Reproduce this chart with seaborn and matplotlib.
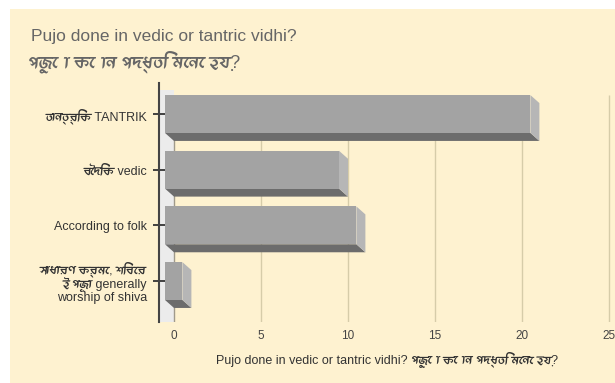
import numpy as np
import pandas as pd
import matplotlib
matplotlib.use("Agg")
import matplotlib.pyplot as plt
import seaborn as sns
from matplotlib import font_manager as fm
from matplotlib.ft2font import FT2Font
from matplotlib.patches import Polygon, Rectangle
from matplotlib.transforms import Affine2D

# data
categories = ["তান্ত্রিক TANTRIK",
              "বৈদিক vedic",
              "According to folk",
              "সাধারণ ক্রমে, শিবের\nই পূজা generally\nworship of shiva"]
counts = [21, 10, 11, 1]
x_ticks = [0, 5, 10, 15, 20, 25]

title_en = "Pujo done in vedic or tantric vidhi?"
title_bn = "পুজো কোন পদ্ধতি মেনে হয়?"
x_label = "Pujo done in vedic or tantric vidhi? পুজো কোন পদ্ধতি মেনে হয়?"


# look for any installed font that has bengali glyphs
def has_bengali(path):
    try:
        return FT2Font(path).get_char_index(0x0995) != 0
    except Exception:
        return False

bengali_fonts = sorted({f.name for f in fm.fontManager.ttflist if has_bengali(f.fname)})

sns.set_style("white")
plt.rcParams['font.family'] = ['Liberation Sans'] + bengali_fonts[:1] + ['DejaVu Sans']

df = pd.DataFrame({"answer": categories, "count": counts})

fig = plt.figure(figsize=(6.15, 3.83), dpi=100, facecolor="white")
# cream card behind everything
fig.patches.append(Rectangle((10 / 615, 0), 1, (383 - 9) / 383, transform=fig.transFigure,
                             facecolor="#fef2d0", edgecolor="none", zorder=-10))

ax = fig.add_axes([159 / 615, (383 - 322) / 383, (615 - 159) / 615, (322 - 83) / 383])
ax.set_facecolor("none")

sns.barplot(data=df, x="count", y="answer", orient="h", color="#a3a3a3",
            saturation=1, width=0.68, ax=ax, zorder=3)

xmin, xmax = -15 / 17.4, (615 - 174) / 17.4
ax.set_xlim(xmin, xmax)
ax.set_ylim(3.736, -0.557)

# 3d depth (data units)
DX = 9 / 17.4
DY = 8 / 55.7

for p in ax.patches:
    x0, w = p.get_x(), p.get_width()
    yt, yb = p.get_y(), p.get_y() + p.get_height()
    p.set_transform(Affine2D().translate(-DX, 0) + ax.transData)
    p.set_edgecolor("none")
    bottom = Polygon([(x0 - DX, yb), (x0 + w - DX, yb), (x0 + w, yb + DY), (x0, yb + DY)],
                     closed=True, facecolor="#6c6c6c", edgecolor="none", zorder=2)
    side = Polygon([(x0 + w - DX, yt), (x0 + w, yt + DY), (x0 + w, yb + DY), (x0 + w - DX, yb)],
                   closed=True, facecolor="#b6b6b6", edgecolor="none", zorder=2)
    ax.add_patch(bottom)
    ax.add_patch(side)

# back wall + grid
ax.axvspan(xmin, 0, ymin=0, ymax=(322 - 90) / (322 - 83), color="#ececec", zorder=0.5, lw=0)
ax.vlines(x_ticks[1:], 0, (322 - 95) / (322 - 83), transform=ax.get_xaxis_transform(),
          colors="#d6cca9", lw=1, zorder=0.6)
ax.vlines([0], 0, (322 - 95) / (322 - 83), transform=ax.get_xaxis_transform(),
          colors="#a09a8a", lw=1, zorder=0.6)

for s in ["top", "right", "bottom"]:
    ax.spines[s].set_visible(False)
ax.spines["left"].set_color("#444444")
ax.spines["left"].set_linewidth(1.5)

ax.set_xticks(x_ticks)
ax.set_xticklabels([str(t) for t in x_ticks])
ax.tick_params(axis="x", length=0, pad=6, labelsize=8.5, labelcolor="#444444")
ax.tick_params(axis="y", left=True, direction="inout", length=8.6, width=1.3, color="#333333",
               pad=4.3, labelsize=9, labelcolor="#333333")
for lab in ax.get_yticklabels():
    lab.set_linespacing(1.0)

ax.set_ylabel("")
ax.set_xlabel(x_label, fontsize=9, color="#333333", labelpad=7)

fig.text(31 / 615, 1 - 29 / 383, title_en, fontsize=12.5, color="#666666", va="top")
fig.text(28 / 615, 1 - 50 / 383, title_bn, fontsize=13, color="#666666", va="top")

fig.savefig("out.png", dpi=100, facecolor="white")
